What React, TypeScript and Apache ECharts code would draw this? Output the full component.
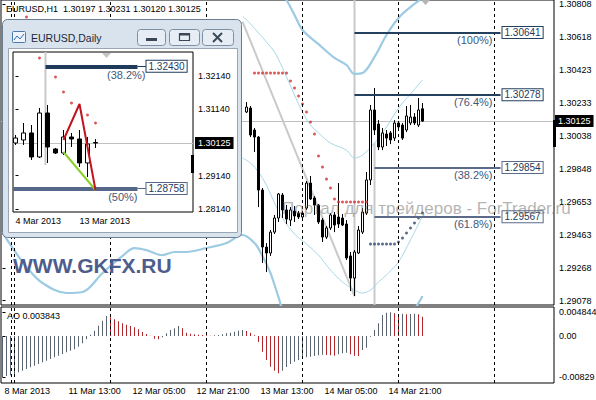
import React, { useEffect, useRef } from 'react';
import * as echarts from 'echarts';

const FONT = '"Liberation Sans", Arial, sans-serif';

// ---------- main chart: EURUSD,H1 (bar index k, k = 0 -> 8 Mar 2013 21:00) ----------
const headerText = 'EURUSD,H1  1.30197 1.30231 1.30120 1.30125';
const priceTicks = [1.30808, 1.30618, 1.30423, 1.30233, 1.30038, 1.29848, 1.29653, 1.29463, 1.29268, 1.29078];
const lastPrice = 1.30125;
const timeTickIdx = [0, 16, 32, 48, 64, 80, 96];
const timeTickLabels = ['8 Mar 2013', '11 Mar 13:00', '12 Mar 05:00', '12 Mar 21:00', '13 Mar 13:00', '14 Mar 05:00', '14 Mar 21:00'];
const separatorIdx = [2.25, 3, 27, 51, 75, 99, 123];

const candleIdx = [61, 62, 63, 64, 65, 66, 67, 68, 69, 70, 71, 72, 73, 74, 75, 76, 77, 78, 79, 80, 81, 82, 83, 84, 85, 86, 87, 88, 89, 90, 91, 92, 93, 94, 95, 96, 97, 98, 99, 100, 101, 102, 103, 104, 105];
const candleOpen = [1.30178, 1.30201, 1.30073, 1.30032, 1.29723, 1.29391, 1.29356, 1.29478, 1.2956, 1.29694, 1.29607, 1.29548, 1.29601, 1.29589, 1.29566, 1.29618, 1.29764, 1.29677, 1.29636, 1.29548, 1.29449, 1.29502, 1.29578, 1.29566, 1.2956, 1.29525, 1.29339, 1.2921, 1.29356, 1.29478, 1.29589, 1.29782, 1.3019, 1.30108, 1.29974, 1.3005, 1.30056, 1.30026, 1.30114, 1.30102, 1.30073, 1.30114, 1.30149, 1.30102, 1.30197];
const candleClose = [1.30207, 1.30044, 1.30032, 1.29723, 1.29391, 1.29356, 1.29478, 1.2956, 1.297, 1.29607, 1.29554, 1.29607, 1.29572, 1.29566, 1.29589, 1.29764, 1.29671, 1.29636, 1.29537, 1.29449, 1.29502, 1.29578, 1.29519, 1.29525, 1.29519, 1.29327, 1.2921, 1.29362, 1.2949, 1.29595, 1.29782, 1.3019, 1.30073, 1.29974, 1.30056, 1.30026, 1.30015, 1.30114, 1.30091, 1.30026, 1.30155, 1.30149, 1.30114, 1.3019, 1.30125];
const candleLow = [1.30172, 1.30032, 1.29945, 1.29624, 1.29298, 1.29245, 1.29339, 1.29467, 1.29537, 1.2956, 1.29525, 1.29513, 1.29537, 1.29554, 1.29554, 1.29607, 1.29665, 1.29578, 1.29525, 1.2942, 1.29438, 1.2949, 1.29478, 1.29502, 1.29513, 1.29315, 1.29134, 1.29105, 1.2935, 1.29467, 1.29578, 1.29752, 1.30044, 1.29956, 1.29956, 1.2998, 1.29991, 1.30009, 1.30073, 1.30015, 1.30061, 1.30102, 1.30102, 1.30091, 1.3012];
const candleHigh = [1.30236, 1.30213, 1.30085, 1.30038, 1.29735, 1.29414, 1.2949, 1.29578, 1.29706, 1.29706, 1.29636, 1.29624, 1.2963, 1.29601, 1.29601, 1.29776, 1.29805, 1.29688, 1.29642, 1.2956, 1.29513, 1.29589, 1.29595, 1.29764, 1.29583, 1.29548, 1.29362, 1.29373, 1.29513, 1.29618, 1.29828, 1.30219, 1.30318, 1.30131, 1.30085, 1.30073, 1.30067, 1.30131, 1.30126, 1.30114, 1.30213, 1.30219, 1.30172, 1.3026, 1.30231];

// Bollinger-type bands (read at a subset of bars)
const bandThickUpIdx = [69, 71, 73, 75, 79, 83, 86, 88, 90, 93, 96, 99, 102, 105];
const bandThickUpVal = [1.30901, 1.30831, 1.30744, 1.30656, 1.30574, 1.30493, 1.30452, 1.304, 1.30405, 1.30499, 1.30627, 1.30726, 1.3079, 1.30843];
const bandThickLowIdx = [0, 2, 6, 10, 16, 20, 25, 30, 33, 36, 40, 43, 46, 51, 56, 60, 63, 65, 67, 69, 71, 80, 95, 102, 105];
const bandThickLowVal = [1.29478, 1.29403, 1.29275, 1.29181, 1.29123, 1.29129, 1.29239, 1.29339, 1.29385, 1.29373, 1.29344, 1.29362, 1.29362, 1.29385, 1.29414, 1.29461, 1.29414, 1.29339, 1.29239, 1.29099, 1.28965, 1.28703, 1.2882, 1.28995, 1.29105];
const bandThinUpIdx = [60, 62, 64, 66, 68, 70, 73, 75, 77, 79, 82, 86, 88, 90, 93, 96, 99, 102, 105];
const bandThinUpVal = [1.30738, 1.30691, 1.30639, 1.30586, 1.30528, 1.30435, 1.30277, 1.30178, 1.30102, 1.30056, 1.29997, 1.29956, 1.2991, 1.29927, 1.29997, 1.30091, 1.30201, 1.30283, 1.30365];
const bandThinLowIdx = [60, 62, 64, 66, 68, 70, 73, 76, 79, 82, 85, 88, 90, 92, 94, 96, 99, 102, 105];
const bandThinLowVal = [1.2991, 1.29881, 1.29828, 1.29752, 1.29648, 1.2956, 1.29467, 1.29409, 1.29344, 1.29257, 1.29187, 1.2914, 1.29123, 1.2914, 1.29187, 1.29228, 1.29304, 1.29432, 1.29572];

// Parabolic SAR
const sarRedIdx = [6, 63, 64, 65, 66, 67, 68, 69, 70, 71, 72, 73, 74, 75, 76, 77, 78, 79, 80, 81, 82, 83, 84, 85, 86, 87, 88, 89, 90, 91];
const sarRedVal = [1.30732, 1.30405, 1.30405, 1.30405, 1.30405, 1.30405, 1.30405, 1.30405, 1.30405, 1.30405, 1.30359, 1.30318, 1.30271, 1.30225, 1.30178, 1.3012, 1.3005, 1.29922, 1.29857, 1.29787, 1.29735, 1.29671, 1.29653, 1.29653, 1.29653, 1.29653, 1.29653, 1.29653, 1.29653, 1.29653];
const sarBlueIdx = [92, 93, 94, 95, 96, 97, 98, 99, 100, 101, 102, 103, 104, 105];
const sarBlueVal = [1.29408, 1.29408, 1.29408, 1.29408, 1.29408, 1.29408, 1.29408, 1.2942, 1.29443, 1.29473, 1.29502, 1.29531, 1.2956, 1.29589];

// Fibonacci object
const fibPrices = [1.30641, 1.30278, 1.29854, 1.29567];
const fibPcts = ['(100%)', '(76.4%)', '(38.2%)', '(61.8%)'];
const fibStartIdx = [88, 88, 93, 93];
const fibEndIdx = 124.5;
const fibTrendIdx = [60, 88];
const fibTrendVal = [1.30705, 1.29105];
const vLine1Idx = [88, 88];
const vLine1Val = [1.30831, 1.29105];
const vLine2Idx = [93, 93];
const vLine2Val = [1.29997, 1.29053];

// Awesome Oscillator (k = 0..105)
const aoTicks = [0.004844, 0, -0.00829];
const aoTickLabels = ['0.004844', '0.00', '-0.00829'];
const aoLabel = 'AO 0.003843';
const aoValues = [
  -0.00827, -0.008, -0.00787, -0.0076, -0.00727, -0.00693, -0.0066, -0.00627, -0.00593, -0.0056,
  -0.00527, -0.00493, -0.0046, -0.00427, -0.00393, -0.0036, -0.00327, -0.00293, -0.00267, -0.00213,
  -0.00147, -0.00067, 0.00027, 0.00107, 0.00207, 0.00307, 0.004, 0.00373, 0.00333, 0.00293,
  0.00253, 0.00227, 0.002, 0.00173, 0.00133, 0.0008, 0.0004, 0.00007, -0.00053, -0.00067,
  -0.00027, 0.00053, 0.0012, 0.00153, 0.002, 0.00153, 0.00067, 0.00047, 0.00033, 0.00027,
  0.0002, 0.00013, 0.00007, 0.00013, 0.0002, 0.00033, 0.00053, 0.00067, 0.00087, 0.00107,
  0.0012, 0.001, 0.00067, 0.00013, -0.0012, -0.00313, -0.0048, -0.00613, -0.00693, -0.00747,
  -0.00693, -0.0062, -0.0056, -0.00513, -0.0048, -0.00453, -0.00427, -0.00413, -0.004, -0.00387,
  -0.00373, -0.0038, -0.00387, -0.00393, -0.00367, -0.00347, -0.00333, -0.00367, -0.00393, -0.004,
  -0.0028, -0.00233, -0.00013, 0.0012, 0.00253, 0.0042, 0.00467, 0.00473, 0.00453, 0.0044,
  0.00447, 0.00433, 0.0044, 0.00447, 0.00433, 0.003843,
];

// ---------- inset window: EURUSD,Daily (bar index i, i = 0 -> 4 Mar 2013) ----------
const insetTitle = 'EURUSD,Daily';
const insetPriceTicks = [1.3214, 1.3114, 1.2914, 1.2814];
const insetDateIdx = [0, 8];
const insetDateLabels = ['4 Mar 2013', '13 Mar 2013'];
const insetOpen = [1.30125, 1.30215, 1.30426, 1.29704, 1.31027, 1.29945, 1.29824, 1.30305, 1.30245, 1.29524, 1.3014];
const insetClose = [1.30275, 1.30426, 1.29704, 1.31027, 1.30005, 1.29824, 1.30305, 1.30245, 1.29524, 1.30095, 1.30125];
const insetLow = [1.30065, 1.30065, 1.29614, 1.29674, 1.29524, 1.29794, 1.29764, 1.30005, 1.29403, 1.29102, 1.29975];
const insetHigh = [1.30366, 1.30727, 1.30666, 1.31178, 1.31268, 1.29975, 1.30516, 1.30426, 1.30516, 1.30305, 1.30245];
const insetSarIdx = [3, 4, 5, 6, 7, 9, 10];
const insetSarVal = [1.32681, 1.32411, 1.3211, 1.31659, 1.31328, 1.30967, 1.30726];
const insetFibPrices = [1.3243, 1.28758];
const insetFibPcts = ['(38.2%)', '(50%)'];
const insetFibStart = [3.75, -0.3125];
const insetFibEnd = 15.25;
const insetVLineIdx = [3.75, 3.75];
const insetVLineVal = [1.32862, 1.29463];
const insetZigzagIdx = [6, 8, 10];
const insetZigzagVal = [1.30215, 1.31298, 1.28711];
const insetLegIdx = [6, 10];
const insetLegVal = [1.29854, 1.28711];

const zip = (a: number[], b: number[]) => a.map((x, i) => [x, b[i]]);
const findLabel = (ticks: number[], labels: string[], v: number) => {
  const i = ticks.findIndex((t) => Math.abs(t - v) < 1e-9);
  return i >= 0 ? labels[i] : '';
};

function buildOption(): any {
  const NAVY = '#23405f';
  const SLATE = '#5a6a88';
  const PCT = '#3f5878';
  const BAND_THICK = '#9ccbe3';
  const BAND_THIN = '#a6d8e8';
  const GREY_LINE = '#c9c9c9';
  const AO_GREY = '#59646f';
  const AO_RED = '#b0262a';
  const CLEAR = 'rgba(0,0,0,0)';
  const txt = { fontFamily: FONT, fontSize: 9, color: '#000' };

  const mainTop = 1.30831;
  const mainBottom = 1.29053;
  const mainXMin = -0.375;
  const mainXMax = 137.875;
  const insetTop = 1.32862;
  const insetBottom = 1.28049;
  const insetXMin = -0.3125;
  const insetXMax = 22.1875;

  const boxLabel = (text: string, color: string, distance: number) => ({
    show: true, position: 'end', formatter: text, distance, color: '#1f3a5a', fontFamily: FONT, fontSize: 10,
    backgroundColor: '#fff', borderColor: color, borderWidth: 1, padding: [1, 2, 0, 2],
  });
  const pctLabel = (text: string, distance: number[]) => ({
    show: true, position: 'insideEndBottom', formatter: text, distance, color: PCT, fontFamily: FONT, fontSize: 11,
  });
  const priceBox = (distance: number) => ({
    show: true, position: 'end', formatter: lastPrice.toFixed(5), distance, backgroundColor: '#000', color: '#fff',
    padding: [2, 3, 1, 3], fontFamily: FONT, fontSize: 9,
  });
  const gridBase = { show: true, backgroundColor: '#fff', borderColor: '#000', borderWidth: 1, outerBoundsMode: 'none', containLabel: false };
  const sepLine = { type: [3, 3], color: '#000', width: 1 };

  const g = (el: any) => ({ silent: true, ...el });

  return {
    animation: false,
    backgroundColor: '#fff',
    grid: [
      { ...gridBase, left: 1, top: 0, width: 553, height: 305 },
      { ...gridBase, left: 1, top: 307, width: 553, height: 76 },
      { ...gridBase, left: 13, top: 52, width: 180, height: 160, z: 20 },
    ],
    xAxis: [
      { type: 'value', gridIndex: 0, min: mainXMin, max: mainXMax, show: false },
      {
        type: 'value', gridIndex: 1, min: mainXMin, max: mainXMax,
        axisLine: { show: false }, splitLine: { show: false }, axisTick: { show: false },
        axisLabel: {
          ...txt, customValues: timeTickIdx, align: 'left', padding: [0, 0, 0, 2], margin: 3,
          formatter: (v: number) => findLabel(timeTickIdx, timeTickLabels, v),
        },
      },
      {
        type: 'value', gridIndex: 2, min: insetXMin, max: insetXMax, z: 21,
        axisLine: { show: false }, splitLine: { show: false }, axisTick: { show: false },
        axisLabel: {
          ...txt, customValues: insetDateIdx, align: 'left', margin: 4,
          formatter: (v: number) => findLabel(insetDateIdx, insetDateLabels, v),
        },
      },
    ],
    yAxis: [
      {
        type: 'value', gridIndex: 0, position: 'right', min: mainBottom, max: mainTop,
        axisLine: { show: false }, splitLine: { show: false },
        axisTick: { show: true, customValues: priceTicks, length: 3, lineStyle: { color: '#000' } },
        axisLabel: { ...txt, customValues: priceTicks, margin: 5, formatter: (v: number) => v.toFixed(5) },
      },
      {
        type: 'value', gridIndex: 1, position: 'right', min: -0.0094, max: 0.0058,
        axisLine: { show: false }, splitLine: { show: false },
        axisTick: { show: true, customValues: aoTicks, length: 3, lineStyle: { color: '#000' } },
        axisLabel: { ...txt, customValues: aoTicks, margin: 5, formatter: (v: number) => findLabel(aoTicks, aoTickLabels, v) },
      },
      {
        type: 'value', gridIndex: 2, position: 'right', min: insetBottom, max: insetTop, z: 21,
        axisLine: { show: false }, splitLine: { show: false },
        axisTick: { show: true, customValues: insetPriceTicks, length: 3, lineStyle: { color: '#000' } },
        axisLabel: { ...txt, customValues: insetPriceTicks, margin: 5, formatter: (v: number) => v.toFixed(5) },
      },
    ],
    series: [
      // fib trend line and time lines (behind everything)
      { type: 'line', xAxisIndex: 0, yAxisIndex: 0, data: zip(fibTrendIdx, fibTrendVal), symbol: 'none', lineStyle: { color: GREY_LINE, width: 2 }, z: 1, silent: true },
      { type: 'line', xAxisIndex: 0, yAxisIndex: 0, data: zip(vLine1Idx, vLine1Val), symbol: 'none', lineStyle: { color: GREY_LINE, width: 2 }, z: 1, silent: true },
      { type: 'line', xAxisIndex: 0, yAxisIndex: 0, data: zip(vLine2Idx, vLine2Val), symbol: 'none', lineStyle: { color: GREY_LINE, width: 2 }, z: 1, silent: true },
      // bands
      { type: 'line', xAxisIndex: 0, yAxisIndex: 0, data: zip(bandThickUpIdx, bandThickUpVal), symbol: 'none', smooth: 0.35, lineStyle: { color: BAND_THICK, width: 2.2 }, z: 2, silent: true },
      { type: 'line', xAxisIndex: 0, yAxisIndex: 0, data: zip(bandThickLowIdx, bandThickLowVal), symbol: 'none', smooth: 0.35, lineStyle: { color: BAND_THICK, width: 2.2 }, z: 2, silent: true },
      { type: 'line', xAxisIndex: 0, yAxisIndex: 0, data: zip(bandThinUpIdx, bandThinUpVal), symbol: 'none', smooth: 0.35, lineStyle: { color: BAND_THIN, width: 1 }, z: 2, silent: true },
      { type: 'line', xAxisIndex: 0, yAxisIndex: 0, data: zip(bandThinLowIdx, bandThinLowVal), symbol: 'none', smooth: 0.35, lineStyle: { color: BAND_THIN, width: 1 }, z: 2, silent: true },
      // current price line (under candles)
      {
        type: 'line', xAxisIndex: 0, yAxisIndex: 0, data: [], silent: true,
        markLine: {
          silent: true, symbol: ['none', 'none'], z: 2,
          data: [[
            { coord: [mainXMin, lastPrice], lineStyle: { type: 'solid', color: '#c0c0c0', width: 1 }, label: priceBox(1) },
            { coord: [mainXMax, lastPrice] },
          ]],
        },
      },
      // candles
      {
        type: 'candlestick', xAxisIndex: 0, yAxisIndex: 0, barWidth: 3, z: 3, silent: true,
        data: candleIdx.map((k, i) => [k, candleOpen[i], candleClose[i], candleLow[i], candleHigh[i]]),
        itemStyle: { color: '#fff', color0: '#000', borderColor: '#000', borderColor0: '#000', borderWidth: 1 },
      },
      // SAR
      { type: 'scatter', xAxisIndex: 0, yAxisIndex: 0, data: zip(sarRedIdx, sarRedVal), symbol: 'circle', symbolSize: 3, itemStyle: { color: '#d22f2f' }, z: 4, silent: true },
      { type: 'scatter', xAxisIndex: 0, yAxisIndex: 0, data: zip(sarBlueIdx, sarBlueVal), symbol: 'circle', symbolSize: 3, itemStyle: { color: '#2f4a6d' }, z: 4, silent: true },
      // separators + fibo levels
      {
        type: 'line', xAxisIndex: 0, yAxisIndex: 0, data: [], silent: true,
        markLine: {
          silent: true, symbol: ['none', 'none'], z: 5,
          data: [
            ...separatorIdx.map((x) => ({ xAxis: x, lineStyle: sepLine, label: { show: false } })),
            ...fibPrices.flatMap((p, i) => {
              const col = i < 2 ? NAVY : SLATE;
              return [
                [{ coord: [fibStartIdx[i], p], lineStyle: { type: 'solid', color: col, width: 2 }, label: boxLabel(p.toFixed(5), col, 2) }, { coord: [fibEndIdx, p] }],
                [{ coord: [fibStartIdx[i], p], lineStyle: { type: 'solid', color: CLEAR, width: 1 }, label: pctLabel(fibPcts[i], [8, 2]) }, { coord: [fibEndIdx, p] }],
              ];
            }),
          ],
        },
      },
      // AO
      {
        type: 'bar', xAxisIndex: 1, yAxisIndex: 1, barWidth: 1, z: 3, silent: true,
        data: aoValues.map((v, k) => ({ value: [k, v], itemStyle: { color: k > 0 && v < aoValues[k - 1] ? AO_RED : AO_GREY } })),
      },
      {
        type: 'line', xAxisIndex: 1, yAxisIndex: 1, data: [], silent: true,
        markLine: { silent: true, symbol: ['none', 'none'], z: 5, data: separatorIdx.map((x) => ({ xAxis: x, lineStyle: sepLine, label: { show: false } })) },
      },
      // ---- inset ----
      { type: 'line', xAxisIndex: 2, yAxisIndex: 2, data: zip(insetVLineIdx, insetVLineVal), symbol: 'none', lineStyle: { color: GREY_LINE, width: 2 }, z: 21, silent: true },
      {
        type: 'line', xAxisIndex: 2, yAxisIndex: 2, data: [], silent: true,
        markLine: {
          silent: true, symbol: ['none', 'none'], z: 22,
          data: [[
            { coord: [insetXMin, lastPrice], lineStyle: { type: 'solid', color: '#c0c0c0', width: 1 }, label: priceBox(2) },
            { coord: [insetXMax, lastPrice] },
          ]],
        },
      },
      {
        type: 'candlestick', xAxisIndex: 2, yAxisIndex: 2, barWidth: 5, z: 23, silent: true,
        data: insetOpen.map((o, i) => [i, o, insetClose[i], insetLow[i], insetHigh[i]]),
        itemStyle: { color: '#fff', color0: '#000', borderColor: '#000', borderColor0: '#000', borderWidth: 1 },
      },
      { type: 'scatter', xAxisIndex: 2, yAxisIndex: 2, data: zip(insetSarIdx, insetSarVal), symbol: 'circle', symbolSize: 3, itemStyle: { color: '#d22f2f' }, z: 23, silent: true },
      {
        type: 'line', xAxisIndex: 2, yAxisIndex: 2, data: [], silent: true,
        markLine: {
          silent: true, symbol: ['none', 'none'], z: 24,
          data: insetFibPrices.flatMap((p, i) => {
            const col = i === 0 ? '#1f3b5c' : '#56688a';
            return [
              [{ coord: [insetFibStart[i], p], lineStyle: { type: 'solid', color: col, width: 4 }, label: boxLabel(p.toFixed(5), col, 9) }, { coord: [insetFibEnd, p] }],
              [{ coord: [insetFibEnd, p], lineStyle: { type: 'solid', color: col, width: 1 }, label: { show: false } }, { coord: [insetFibEnd + 1.1, p] }],
              [{ coord: [insetFibStart[i], p], lineStyle: { type: 'solid', color: CLEAR, width: 1 }, label: pctLabel(insetFibPcts[i], [0, 3]) }, { coord: [i === 0 ? insetFibEnd + 1 : insetFibEnd, p] }],
            ];
          }),
        },
      },
      { type: 'line', xAxisIndex: 2, yAxisIndex: 2, data: zip(insetLegIdx, insetLegVal), symbol: 'none', lineStyle: { color: '#8ccf2a', width: 2 }, z: 25, silent: true },
      { type: 'line', xAxisIndex: 2, yAxisIndex: 2, data: zip(insetZigzagIdx, insetZigzagVal), symbol: 'none', lineStyle: { color: '#c0141e', width: 2 }, z: 25, silent: true },
    ],
    graphic: [
      g({ type: 'text', x: 6, y: 9, z: 30, style: { text: headerText, fill: '#000', fontFamily: FONT, fontSize: 9, verticalAlign: 'middle' } }),
      g({ type: 'text', x: 7, y: 316, z: 6, style: { text: aoLabel, fill: '#000', fontFamily: FONT, fontSize: 9, verticalAlign: 'middle' } }),
      g({ type: 'text', x: 282, y: 208, z: 6, style: { text: 'Портал для трейдеров - ForTrader.ru', fill: 'rgba(105,105,105,0.5)', fontFamily: FONT, fontSize: 17, verticalAlign: 'middle' } }),
      g({ type: 'text', x: 13, y: 265, z: 6, style: { text: 'WWW.GKFX.RU', fill: '#4e5d8c', fontFamily: FONT, fontSize: 21, fontWeight: 'bold', verticalAlign: 'middle' } }),
      g({ type: 'rect', z: 7, shape: { x: 553, y: 120, width: 3, height: 27 }, style: { fill: '#000' } }),
      g({ type: 'polygon', z: 7, shape: { points: [[421, 0], [430, 0], [425.5, 5]] }, style: { fill: '#b4b4b4' } }),
      // window chrome
      g({ type: 'rect', z: 10, shape: { x: 2.5, y: 19.5, width: 239, height: 218, r: 5 }, style: { fill: '#d9e3ee', stroke: '#6d7d90', lineWidth: 1 } }),
      g({ type: 'rect', z: 11, shape: { x: 8.5, y: 48.5, width: 229, height: 184 }, style: { fill: '#fff', stroke: '#9aa6b4', lineWidth: 1 } }),
      g({ type: 'rect', z: 12, shape: { x: 12.5, y: 31.5, width: 13, height: 11, r: 1 }, style: { fill: '#eef4fb', stroke: '#4f79a8', lineWidth: 1 } }),
      g({ type: 'polyline', z: 13, shape: { points: [[14, 40], [17, 36], [20, 39], [24, 34]] }, style: { stroke: '#2d6fb0', lineWidth: 1, fill: 'none' } }),
      g({ type: 'text', x: 31, y: 38, z: 12, style: { text: insetTitle, fill: '#1b2a3a', fontFamily: FONT, fontSize: 10.5, verticalAlign: 'middle' } }),
      g({ type: 'rect', z: 12, shape: { x: 137.5, y: 29.5, width: 28, height: 16, r: 3 }, style: { fill: '#e6edf5', stroke: '#7f8ea0', lineWidth: 1 } }),
      g({ type: 'rect', z: 12, shape: { x: 169.5, y: 29.5, width: 30, height: 16, r: 3 }, style: { fill: '#e6edf5', stroke: '#7f8ea0', lineWidth: 1 } }),
      g({ type: 'rect', z: 12, shape: { x: 202.5, y: 29.5, width: 31, height: 16, r: 3 }, style: { fill: '#e6edf5', stroke: '#7f8ea0', lineWidth: 1 } }),
      g({ type: 'rect', z: 13, shape: { x: 146, y: 38, width: 11, height: 3 }, style: { fill: '#3a4756' } }),
      g({ type: 'rect', z: 13, shape: { x: 179.5, y: 33.5, width: 10, height: 7 }, style: { fill: 'none', stroke: '#3a4756', lineWidth: 1.2 } }),
      g({ type: 'rect', z: 13, shape: { x: 179.5, y: 33.5, width: 10, height: 2 }, style: { fill: '#3a4756' } }),
      g({ type: 'line', z: 13, shape: { x1: 213, y1: 33, x2: 222, y2: 42 }, style: { stroke: '#3a4756', lineWidth: 2 } }),
      g({ type: 'line', z: 13, shape: { x1: 222, y1: 33, x2: 213, y2: 42 }, style: { stroke: '#3a4756', lineWidth: 2 } }),
      g({ type: 'rect', z: 26, shape: { x: 191, y: 155, width: 3, height: 18 }, style: { fill: '#000' } }),
      g({ type: 'polygon', z: 26, shape: { points: [[102, 53], [111, 53], [106.5, 58]] }, style: { fill: '#c4c4c4' } }),
    ],
  };
}

export default function App() {
  const ref = useRef<HTMLDivElement>(null);
  useEffect(() => {
    document.body.style.margin = '0';
    const chart = echarts.init(ref.current as HTMLDivElement, null, { renderer: 'svg' });
    chart.setOption(buildOption());
    return () => chart.dispose();
  }, []);
  return <div ref={ref} style={{ width: 596, height: 400, background: '#fff' }} />;
}
